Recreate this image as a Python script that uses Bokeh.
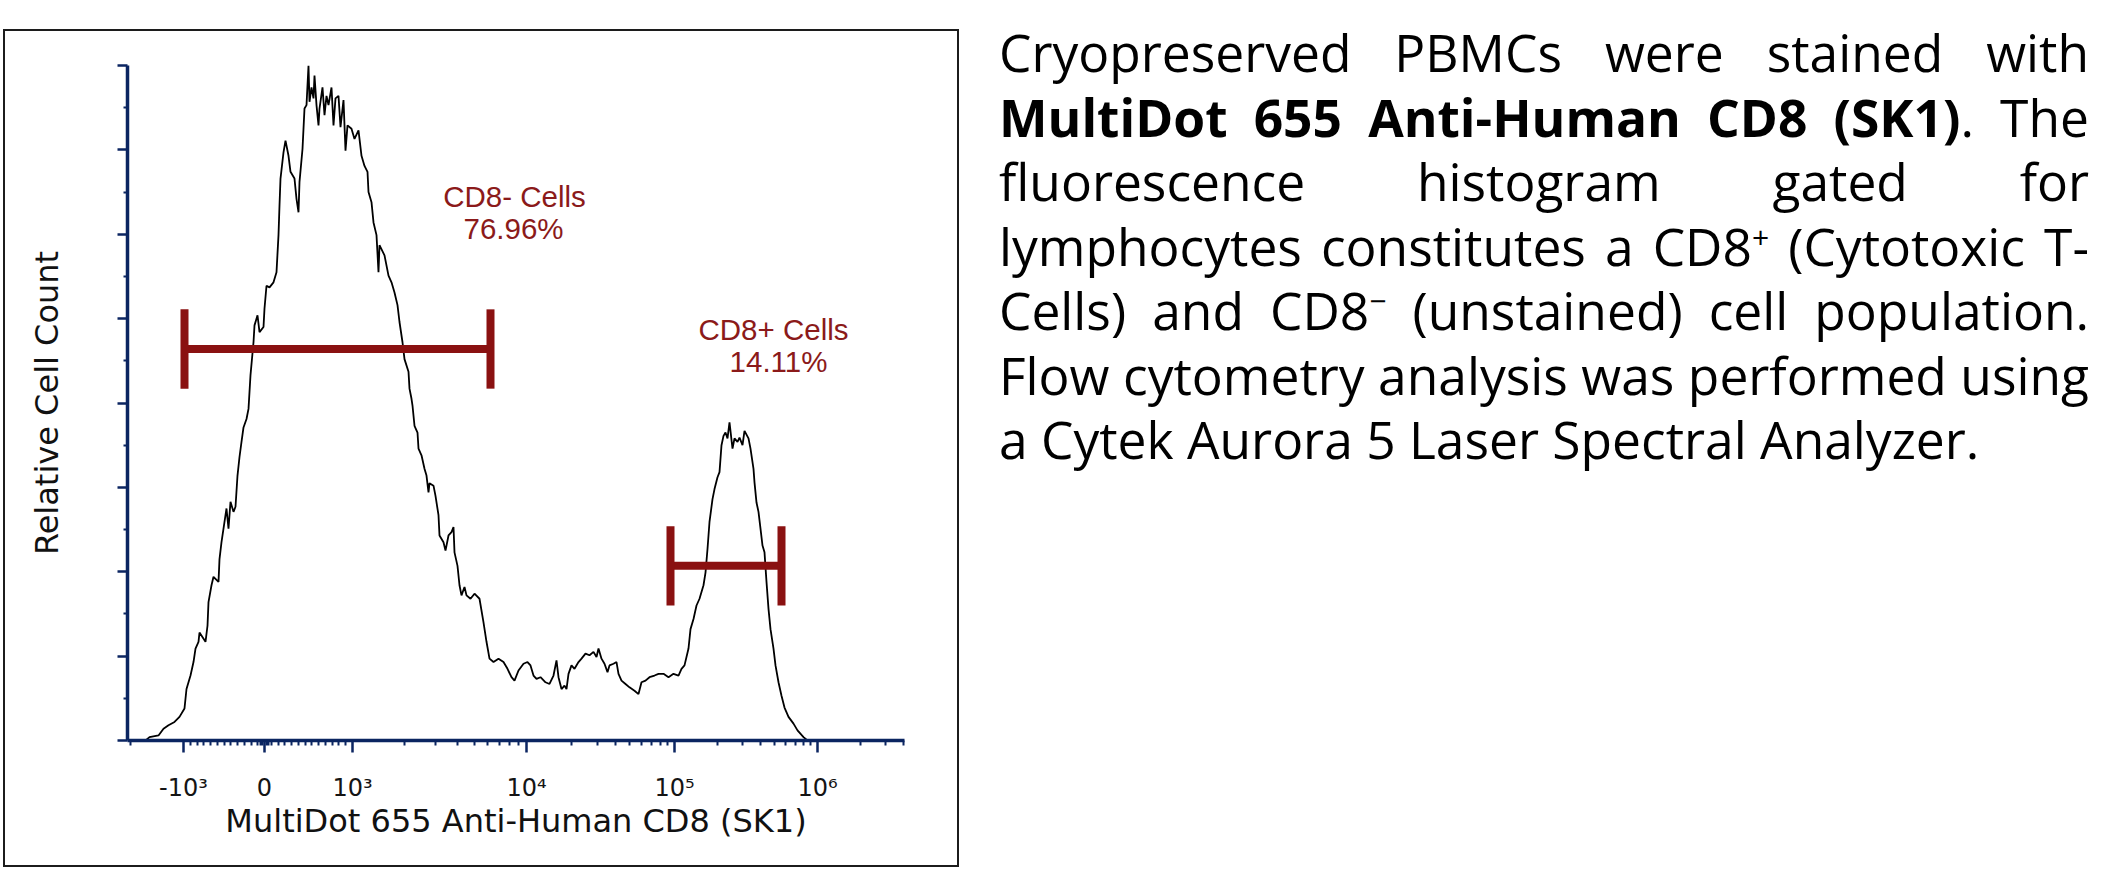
import math
from bokeh.plotting import figure
from bokeh.models import Range1d, FixedTicker, ColumnDataSource, Div, CustomLabelingPolicy
from bokeh.layouts import row
from bokeh.core.properties import value
from bokeh.embed import file_html
from bokeh.resources import INLINE

# ---------------- data ----------------
# histogram: display channel (x) and relative cell count (y)
channel = [19, 22, 31, 36, 41, 47, 52, 57, 59, 63, 66, 68, 71, 72, 78, 80, 81, 84, 86, 91,
           92, 94, 97, 99, 101, 103, 106, 108, 110, 112, 114, 116, 119, 121, 123, 126, 127, 130, 132, 136,
           137, 139, 142, 146, 149, 151, 152, 153, 156, 158, 161, 163, 167, 169, 171, 172, 175, 177, 179, 181,
           182, 184, 186, 187, 189, 191, 192, 195, 197, 199, 201, 204, 206, 208, 211, 213, 216, 217, 218, 220,
           224, 227, 231, 234, 237, 240, 241, 244, 246, 249, 251, 252, 257, 261, 264, 267, 270, 272, 275, 277,
           281, 282, 284, 285, 287, 290, 291, 294, 297, 299, 301, 302, 306, 308, 311, 312, 316, 318, 321, 324,
           326, 327, 330, 332, 334, 337, 339, 343, 347, 352, 356, 359, 362, 366, 371, 376, 380, 384, 387, 391,
           396, 400, 403, 406, 409, 413, 418, 422, 426, 429, 431, 434, 437, 439, 441, 444, 447, 451, 454, 458,
           462, 466, 469, 471, 474, 477, 480, 482, 486, 489, 491, 494, 498, 502, 507, 511, 514, 518, 522, 527,
           531, 536, 541, 546, 551, 554, 557, 561, 563, 566, 569, 572, 576, 578, 580, 582, 585, 587, 590, 592,
           594, 596, 598, 600, 602, 605, 607, 610, 612, 615, 617, 621, 623, 626, 627, 629, 631, 633, 635, 637,
           639, 641, 643, 646, 648, 651, 654, 657, 661, 666, 670, 676, 680]
count = [1, 4, 6, 14, 18, 22, 28, 38, 61, 77, 93, 109, 117, 128, 117, 136, 164, 184, 194, 188,
         215, 235, 259, 275, 251, 283, 271, 277, 314, 336, 354, 371, 381, 393, 433, 472, 492, 504, 484, 490,
         512, 539, 537, 543, 555, 599, 634, 666, 697, 711, 693, 674, 666, 642, 626, 662, 701, 749, 753, 800,
         757, 774, 761, 788, 753, 729, 749, 774, 741, 764, 753, 774, 729, 761, 764, 727, 759, 729, 699, 729,
         725, 713, 723, 693, 681, 674, 650, 638, 614, 599, 555, 587, 575, 551, 543, 531, 516, 496, 472, 452,
         437, 417, 405, 397, 373, 365, 346, 338, 322, 314, 294, 305, 302, 290, 267, 243, 235, 225, 243, 247,
         253, 223, 207, 184, 172, 182, 172, 168, 174, 168, 140, 117, 97, 93, 97, 93, 85, 75, 71, 83,
         91, 93, 89, 77, 73, 75, 69, 67, 77, 95, 75, 61, 65, 61, 79, 89, 85, 93, 97, 103,
         101, 105, 99, 109, 97, 91, 81, 89, 91, 93, 79, 71, 67, 63, 59, 55, 69, 71, 75, 77,
         79, 79, 75, 79, 77, 85, 89, 109, 132, 144, 160, 168, 184, 199, 227, 259, 286, 298, 312, 318,
         350, 361, 365, 358, 377, 346, 358, 354, 359, 350, 367, 358, 346, 322, 306, 282, 271, 251, 231, 223,
         188, 156, 132, 109, 89, 69, 53, 39, 28, 20, 12, 4, 0]

# x axis ticks (display channel of each decade) and labels
tick_channels = [56, 137, 225, 399, 547, 690]
tick_labels = ["-10\u00b3", "0", "10\u00b3", "10\u2074", "10\u2075", "10\u2076"]

# gates
gate_names = ["CD8- Cells", "CD8+ Cells"]
gate_pcts = ["76.96%", "14.11%"]
gate_left = [57, 543]
gate_right = [363, 654]
gate_y = [464, 207]

# ---------------- styles / layout ----------------
NAVY = "#0b2561"
GATE = "#8a1111"
GATE_TXT = "#8b1a1a"
CAP = 47            # half-height of gate end caps (count units)
name_x = [387, 646]
pct_x = [386, 651]
name_y = [645, 487]
pct_y = [607, 449]

# minor ticks: log-spaced inside the decades, linear around zero
minor = [3]
minor += [tick_channels[0] + k * (tick_channels[1] - tick_channels[0]) / 12 for k in range(1, 12)]
minor += [133, 135, 139, 141]
minor += [tick_channels[1] + k * (tick_channels[2] - tick_channels[1]) / 13 for k in range(1, 13)]
for a, b in zip(tick_channels[2:-1], tick_channels[3:]):
    minor += [a + math.log10(m) * (b - a) for m in range(2, 10)]
last_w = tick_channels[-1] - tick_channels[-2]
minor += [tick_channels[-1] + math.log10(m) * last_w for m in (2, 3, 4)]

p = figure(width=956, height=838, output_backend="svg", toolbar_location=None,
           x_range=Range1d(0, 777), y_range=Range1d(0, 800),
           min_border_left=122, min_border_right=57, min_border_top=34, min_border_bottom=129,
           background_fill_color="white", border_fill_color="white",
           margin=(29, 0, 0, 3),
           styles={"border": "2px solid #1c1c1c"})
p.outline_line_color = None
p.grid.visible = False

# x axis
xa = p.xaxis[0]
xa.ticker = FixedTicker(ticks=tick_channels, minor_ticks=minor)
xa.major_label_overrides = {t: l for t, l in zip(tick_channels, tick_labels)}
xa.axis_line_color = NAVY
xa.axis_line_width = 3.5
xa.major_tick_line_color = NAVY
xa.major_tick_line_width = 2.5
xa.major_tick_out = 12
xa.major_tick_in = 0
xa.minor_tick_line_color = NAVY
xa.minor_tick_line_width = 2
xa.minor_tick_out = 5
xa.minor_tick_in = 0
xa.major_label_text_font = "DejaVu Sans"
xa.major_label_text_font_size = "24px"
xa.major_label_text_color = "#141414"
xa.major_label_standoff = 21
xa.axis_label = "MultiDot 655 Anti-Human CD8 (SK1)"
xa.axis_label_text_font = "DejaVu Sans"
xa.axis_label_text_font_size = "32px"
xa.axis_label_text_font_style = "normal"
xa.axis_label_text_color = "#111111"
xa.axis_label_standoff = -3

# y axis (ticks only, no tick labels)
ya = p.yaxis[0]
ya.ticker = FixedTicker(ticks=list(range(0, 801, 100)), minor_ticks=list(range(50, 800, 100)))
ya.major_label_policy = CustomLabelingPolicy(code="""
try {
  const r = indices.clone();
  for (const i of indices.ones()) r.unset(i);
  return r;
} catch (e) {
  return indices;
}
""")
ya.major_label_text_font_size = "0px"
ya.axis_line_color = NAVY
ya.axis_line_width = 3.5
ya.major_tick_line_color = NAVY
ya.major_tick_line_width = 2.5
ya.major_tick_out = 10
ya.major_tick_in = 0
ya.minor_tick_line_color = NAVY
ya.minor_tick_line_width = 2
ya.minor_tick_out = 4
ya.minor_tick_in = 0
ya.axis_label = "Relative Cell Count"
ya.axis_label_text_font = "DejaVu Sans"
ya.axis_label_text_font_size = "32px"
ya.axis_label_text_font_style = "normal"
ya.axis_label_text_color = "#111111"
ya.axis_label_standoff = 52

# histogram
p.line(channel, count, line_color="black", line_width=1.8)

# gates
gsrc = ColumnDataSource(dict(left=gate_left, right=gate_right, y=gate_y,
                             lo=[v - CAP for v in gate_y], hi=[v + CAP for v in gate_y]))
p.segment(x0="left", y0="y", x1="right", y1="y", source=gsrc,
          line_color=GATE, line_width=8, line_cap="butt")
p.segment(x0="left", y0="lo", x1="left", y1="hi", source=gsrc,
          line_color=GATE, line_width=8, line_cap="butt")
p.segment(x0="right", y0="lo", x1="right", y1="hi", source=gsrc,
          line_color=GATE, line_width=8, line_cap="butt")

p.text(x=name_x, y=name_y, text=gate_names, text_align="center", text_baseline="alphabetic",
       text_font=value("Liberation Sans"), text_font_size="29.5px", text_color=GATE_TXT)
p.text(x=pct_x, y=pct_y, text=gate_pcts, text_align="center", text_baseline="alphabetic",
       text_font=value("Liberation Sans"), text_font_size="29.5px", text_color=GATE_TXT)

# ---------------- description paragraph ----------------
SUP = "<span style='font-size:30px; vertical-align:18px; line-height:0'>{}</span>"
para_lines = [
    "Cryopreserved PBMCs were stained with",
    "<b>MultiDot 655 Anti-Human CD8 (SK1)</b>. The",
    "fluorescence histogram gated for",
    "lymphocytes constitutes a CD8" + SUP.format("+") + " (Cytotoxic T-",
    "Cells) and CD8" + SUP.format("\u2212") + " (unstained) cell population.",
    "Flow cytometry analysis was performed using",
    "a Cytek Aurora 5 Laser Spectral Analyzer.",
]
html = "".join(
    "<div style='text-align:justify; text-align-last:{}; white-space:nowrap;'>{}</div>".format(
        "justify" if i < len(para_lines) - 1 else "left", t)
    for i, t in enumerate(para_lines))
html = ("<div style=\"font-family:'Open Sans'; font-size:51.5px; line-height:64.5px; color:#000; "
        "width:1090px;\">" + html + "</div>")
div = Div(text=html, width=1090, margin=(20, 0, 0, 40))

layout = row(p, div)
open("out.html", "w").write(file_html(layout, INLINE))
